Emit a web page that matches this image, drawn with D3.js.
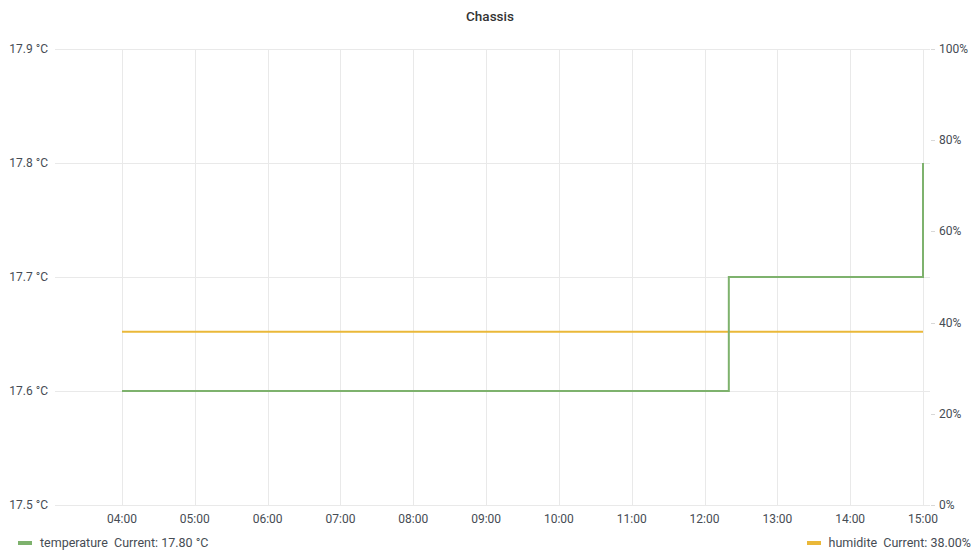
<!DOCTYPE html>
<html>
<head>
<meta charset="utf-8">
<script src="https://cdn.jsdelivr.net/npm/d3@7"></script>
<style>
  body { margin: 0; background: #fff; }
  text { font-family: Roboto, "Noto Sans", sans-serif; }
</style>
</head>
<body>
<div id="chart"></div>
<script>
// data
var tempTimes = ["04:00", "12:20", "15:00"];
var tempValues = [17.6, 17.7, 17.8];
var humTimes = ["04:00", "15:00"];
var humValues = [38, 38];
var xTicks = ["04:00", "05:00", "06:00", "07:00", "08:00", "09:00", "10:00", "11:00", "12:00", "13:00", "14:00", "15:00"];
var leftTicks = [17.5, 17.6, 17.7, 17.8, 17.9];
var rightTicks = [0, 20, 40, 60, 80, 100];

var svgWidth = 980, svgHeight = 560;
var plot = {left: 55, right: 930, top: 49, bottom: 505};

var parseT = d3.timeParse("%H:%M");

var svg = d3.select("#chart").append("svg")
    .attr("width", svgWidth)
    .attr("height", svgHeight);

var x = d3.scaleTime()
    .domain([parseT("04:00"), parseT("15:00")])
    .range([122, 923]);
var yLeft = d3.scaleLinear().domain([17.5, 17.9]).range([plot.bottom, plot.top]);
var yRight = d3.scaleLinear().domain([0, 100]).range([plot.bottom, plot.top]);

// title
svg.append("text")
    .attr("x", 490).attr("y", 21)
    .attr("text-anchor", "middle")
    .attr("font-size", "13.5px")
    .attr("font-weight", 500)
    .attr("fill", "#333")
    .text("Chassis");

// grid
var grid = svg.append("g").attr("stroke", "#e9e9e9").attr("stroke-width", 1);
grid.selectAll(".hg").data(leftTicks).enter().append("line")
    .attr("x1", plot.left).attr("x2", plot.right)
    .attr("y1", d => Math.round(yLeft(d)) + 0.5)
    .attr("y2", d => Math.round(yLeft(d)) + 0.5);
grid.selectAll(".vg").data(xTicks).enter().append("line")
    .attr("x1", d => Math.round(x(parseT(d))) + 0.5)
    .attr("x2", d => Math.round(x(parseT(d))) + 0.5)
    .attr("y1", plot.top).attr("y2", plot.bottom);

// left axis labels
svg.append("g").selectAll("text").data(leftTicks).enter().append("text")
    .attr("x", 48).attr("y", d => yLeft(d) + 4)
    .attr("text-anchor", "end")
    .attr("font-size", "12px")
    .attr("fill", "#464c54")
    .text(d => d.toFixed(1) + " °C");

// right axis ticks + labels
var right = svg.append("g");
right.selectAll("line").data(rightTicks).enter().append("line")
    .attr("x1", plot.right + 1).attr("x2", plot.right + 5)
    .attr("y1", d => Math.round(yRight(d)) + 0.5)
    .attr("y2", d => Math.round(yRight(d)) + 0.5)
    .attr("stroke", "#d8d8d8");
right.selectAll("text").data(rightTicks).enter().append("text")
    .attr("x", 939).attr("y", d => yRight(d) + 4)
    .attr("font-size", "12px")
    .attr("fill", "#464c54")
    .text(d => d + "%");

// x axis labels
svg.append("g").selectAll("text").data(xTicks).enter().append("text")
    .attr("x", d => x(parseT(d)))
    .attr("y", 523)
    .attr("text-anchor", "middle")
    .attr("font-size", "12px")
    .attr("fill", "#464c54")
    .text(d => d);

// series
var humLine = d3.line()
    .x((d, i) => x(parseT(humTimes[i])))
    .y(d => yRight(d))
    .curve(d3.curveStepAfter);
svg.append("path")
    .datum(humValues)
    .attr("d", humLine)
    .attr("fill", "none")
    .attr("stroke", "#eab839")
    .attr("stroke-width", 2);

var tempLine = d3.line()
    .x((d, i) => x(parseT(tempTimes[i])))
    .y(d => yLeft(d))
    .curve(d3.curveStepAfter);
svg.append("path")
    .datum(tempValues)
    .attr("d", tempLine)
    .attr("fill", "none")
    .attr("stroke", "#7eb26d")
    .attr("stroke-width", 2);

// legend
var legend = svg.append("g").attr("font-size", "12.5px").attr("fill", "#464c54");
legend.append("rect").attr("x", 18).attr("y", 541).attr("width", 14).attr("height", 4).attr("fill", "#7eb26d");
legend.append("text").attr("x", 40).attr("y", 547)
    .attr("xml:space", "preserve")
    .text("temperature  Current: " + tempValues[tempValues.length - 1].toFixed(2) + " °C");
legend.append("rect").attr("x", 807).attr("y", 541).attr("width", 14).attr("height", 4).attr("fill", "#eab839");
legend.append("text").attr("x", 971).attr("y", 547)
    .attr("text-anchor", "end")
    .attr("xml:space", "preserve")
    .text("humidite  Current: " + humValues[humValues.length - 1].toFixed(2) + "%");
</script>
</body>
</html>
